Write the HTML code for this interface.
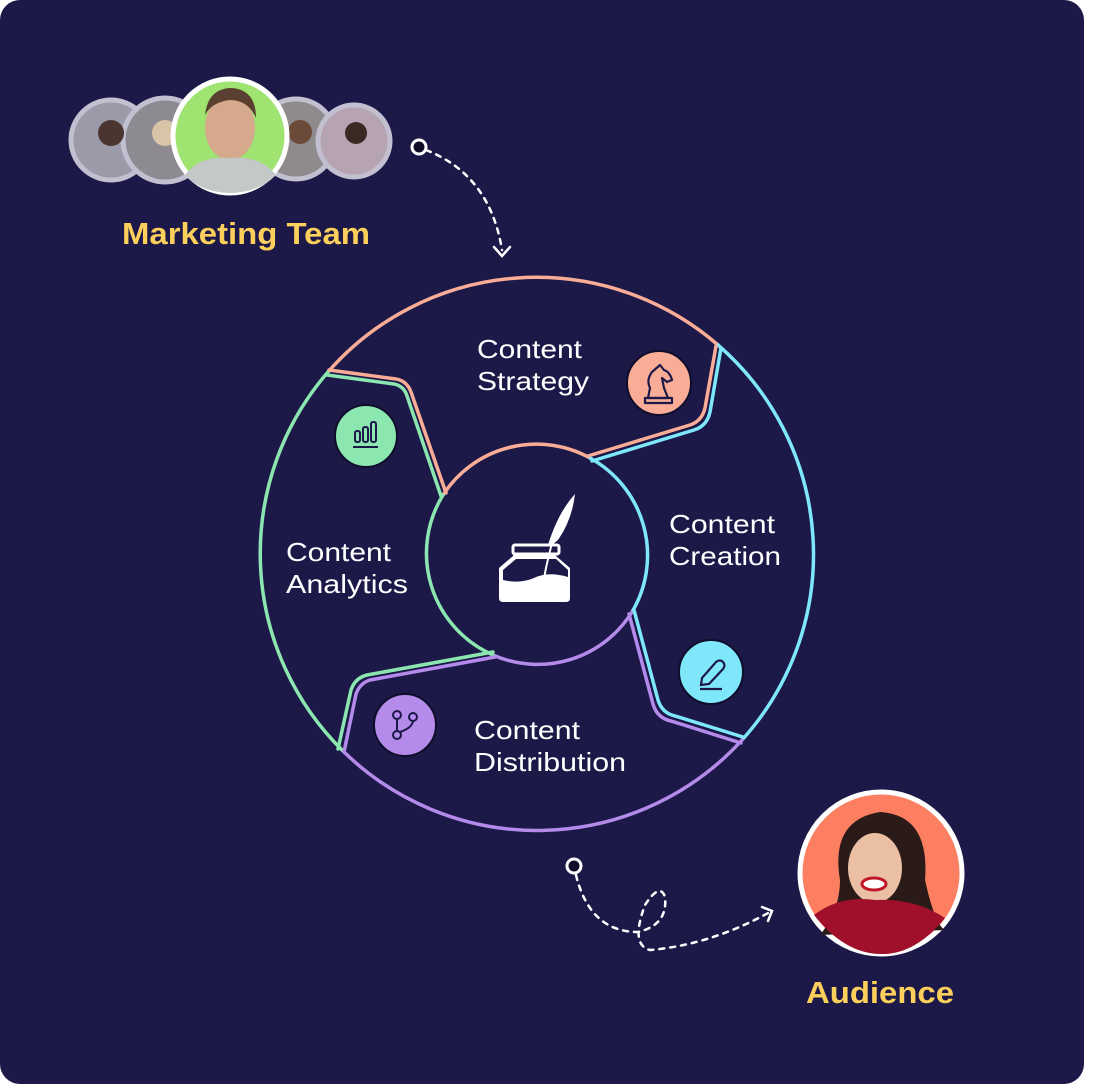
<!DOCTYPE html>
<html><head><meta charset="utf-8"><style>
html,body{margin:0;padding:0;background:#fff;width:1100px;height:1084px;overflow:hidden}
svg{display:block}
text{font-family:"Liberation Sans",sans-serif}
</style></head><body>
<svg width="1100" height="1084" viewBox="0 0 1100 1084" xmlns="http://www.w3.org/2000/svg">
<rect x="0" y="0" width="1084" height="1084" rx="20" fill="#1c1848"/>

<g fill="none" stroke-width="3.5" stroke-linecap="round">
<path d="M328,372 A277,277 0 0 1 718,345" stroke="#f9ad97"/>
<path d="M718,345 A277,277 0 0 1 742,740" stroke="#7ee8fa"/>
<path d="M742,740 A277,277 0 0 1 342,750" stroke="#b48bea"/>
<path d="M342,750 A277,277 0 0 1 328,372" stroke="#8ce6b0"/>
<path d="M443,495 A111,111 0 0 1 590,458" stroke="#f9ad97"/>
<path d="M590,458 A111,111 0 0 1 632,612" stroke="#7ee8fa"/>
<path d="M632,612 A111,111 0 0 1 493,655" stroke="#b48bea"/>
<path d="M493,655 A111,111 0 0 1 443,495" stroke="#8ce6b0"/>
<path d="M588,456 L690,425 Q702,421 705,408 L716,346" stroke="#f9ad97"/>
<path d="M592,461 L694,430 Q707,426 710,412 L721,348" stroke="#7ee8fa"/>
<path d="M329,370 L396,379 Q407,381 411,392 L446,493" stroke="#f9ad97"/>
<path d="M327,375 L394,384 Q404,386 407,396 L441,496" stroke="#8ce6b0"/>
<path d="M493,652 L367,675 Q355,678 351,690 L338,749" stroke="#8ce6b0"/>
<path d="M495,657 L370,680 Q360,683 356,694 L344,752" stroke="#b48bea"/>
<path d="M634,610 L658,700 Q662,713 675,716 L743,737" stroke="#7ee8fa"/>
<path d="M629,614 L653,704 Q657,718 671,721 L741,743" stroke="#b48bea"/>
</g>

<g fill="#fff" font-size="26">
<text x="477" y="358" textLength="105" lengthAdjust="spacingAndGlyphs">Content</text><text x="477" y="390" textLength="112" lengthAdjust="spacingAndGlyphs">Strategy</text>
<text x="669" y="533" textLength="106" lengthAdjust="spacingAndGlyphs">Content</text><text x="669" y="565" textLength="112" lengthAdjust="spacingAndGlyphs">Creation</text>
<text x="286" y="561" textLength="105" lengthAdjust="spacingAndGlyphs">Content</text><text x="286" y="593" textLength="122" lengthAdjust="spacingAndGlyphs">Analytics</text>
<text x="474" y="739" textLength="106" lengthAdjust="spacingAndGlyphs">Content</text><text x="474" y="771" textLength="152" lengthAdjust="spacingAndGlyphs">Distribution</text>
</g>

<circle cx="659" cy="383" r="32" fill="#f9ad97" stroke="#0f0d2a" stroke-width="2"/>
<g fill="none" stroke="#1c1848" stroke-width="2.2" stroke-linejoin="round">
<path d="M648,398 L650,388 Q646,380 652,372 L660,365 L664,370 Q670,372 672,380 L667,382 L662,378 L664,388 L668,398 Z"/>
<rect x="645" y="398" width="27" height="5"/>
</g>
<circle cx="711" cy="672" r="32" fill="#7ee8fa" stroke="#0f0d2a" stroke-width="2"/>
<g fill="none" stroke="#1c1848" stroke-width="2.2">
<path d="M702,678 L716,662 Q720,659 723,662 Q726,665 723,669 L709,684 L701,685 Z"/>
<line x1="700" y1="689" x2="722" y2="689"/>
</g>
<circle cx="366" cy="436" r="31" fill="#8ce6b0" stroke="#0f0d2a" stroke-width="2"/>
<g fill="none" stroke="#1c1848" stroke-width="2">
<rect x="355" y="431" width="5" height="11" rx="2"/><rect x="363" y="427" width="5" height="15" rx="2"/><rect x="371" y="422" width="5" height="20" rx="2"/>
<line x1="353" y1="447" x2="378" y2="447"/>
</g>
<circle cx="405" cy="725" r="31" fill="#b48bea" stroke="#0f0d2a" stroke-width="2"/>
<g fill="none" stroke="#1c1848" stroke-width="2">
<circle cx="397" cy="715" r="4"/><circle cx="397" cy="735" r="4"/><circle cx="413" cy="717" r="4"/>
<line x1="397" y1="719" x2="397" y2="731"/><path d="M413,721 Q412,728 400,732"/>
</g>

<g fill="#fff">
<path d="M516,548 h40 v8 l14,12 v30 q0,4 -4,4 h-63 q-4,0 -4,-4 v-30 l14,-12 z" />
<path d="M546,552 Q556,515 575,494 Q572,520 558,540 L552,545 L546,560 Z"/>
</g>
<path d="M503,570 L516,559 h40 l12,11 v7 q-20,-6 -34,1 q-14,6 -31,2 z" fill="#1c1848"/>
<rect x="513" y="545" width="46" height="9" rx="2" fill="#1c1848" stroke="#fff" stroke-width="3"/>
<path d="M552,543 Q545,570 544,580" stroke="#fff" stroke-width="2" fill="none"/>

<circle cx="111" cy="140" r="40" fill="#9a9aa8" stroke="#c2c0d0" stroke-width="5"/>
<circle cx="165" cy="140" r="42" fill="#8d8a92" stroke="#c2c0d0" stroke-width="5"/>
<circle cx="296" cy="139" r="40" fill="#8f8b8c" stroke="#c2c0d0" stroke-width="5"/>
<circle cx="354" cy="141" r="36" fill="#b7a4b2" stroke="#c2c0d0" stroke-width="5"/>
<circle cx="111" cy="133" r="13" fill="#4a3530"/>
<circle cx="165" cy="133" r="13" fill="#d9c4a8"/>
<circle cx="300" cy="132" r="12" fill="#6b4a3a"/>
<circle cx="356" cy="133" r="11" fill="#3b2a24"/>
<circle cx="230" cy="136" r="57" fill="#9fe371" stroke="#fff" stroke-width="5"/>
<ellipse cx="230" cy="128" rx="25" ry="32" fill="#d6a98c"/>
<path d="M205,115 Q208,88 232,88 Q256,90 256,118 Q248,100 230,100 Q212,102 205,115Z" fill="#5a4030"/>
<path d="M185,175 Q200,155 230,158 Q260,155 276,175 Q260,192 230,193 Q200,192 185,175Z" fill="#c4c8c6"/>

<text x="122" y="244" font-size="31" font-weight="bold" fill="#fdd05c" textLength="248" lengthAdjust="spacingAndGlyphs">Marketing Team</text>

<circle cx="881" cy="873" r="81" fill="#fd7f62" stroke="#fff" stroke-width="5"/>
<path d="M840,880 Q830,820 880,812 Q930,815 925,880 Q935,925 945,930 L820,935 Q840,910 840,880Z" fill="#2a1a18"/>
<ellipse cx="875" cy="868" rx="27" ry="35" fill="#eabfa3"/>
<path d="M814,915 Q840,895 875,900 Q915,898 945,918 Q915,955 881,954 Q845,954 814,915Z" fill="#a0102a"/>
<ellipse cx="874" cy="884" rx="12" ry="6" fill="#fff" stroke="#c0182a" stroke-width="3"/>
<text x="806" y="1003" font-size="31" font-weight="bold" fill="#fdd05c" textLength="148" lengthAdjust="spacingAndGlyphs">Audience</text>

<g fill="none" stroke="#fff" stroke-width="2.5" stroke-linecap="round">
<path d="M426,150 Q490,175 502,250" stroke-dasharray="5 6"/>
<path d="M494,247 L502,256 L510,247"/>
<path d="M576,875 Q590,932 638,932 Q668,925 665,897 Q660,882 645,905 Q630,945 650,950 Q710,945 770,912" stroke-dasharray="5 6"/>
<path d="M762,907 L772,911 L768,921"/>
</g>
<circle cx="419" cy="147" r="7" fill="#0f0d2a" stroke="#fff" stroke-width="3"/>
<circle cx="574" cy="866" r="7" fill="#0f0d2a" stroke="#fff" stroke-width="3"/>
</svg>
</body></html>
